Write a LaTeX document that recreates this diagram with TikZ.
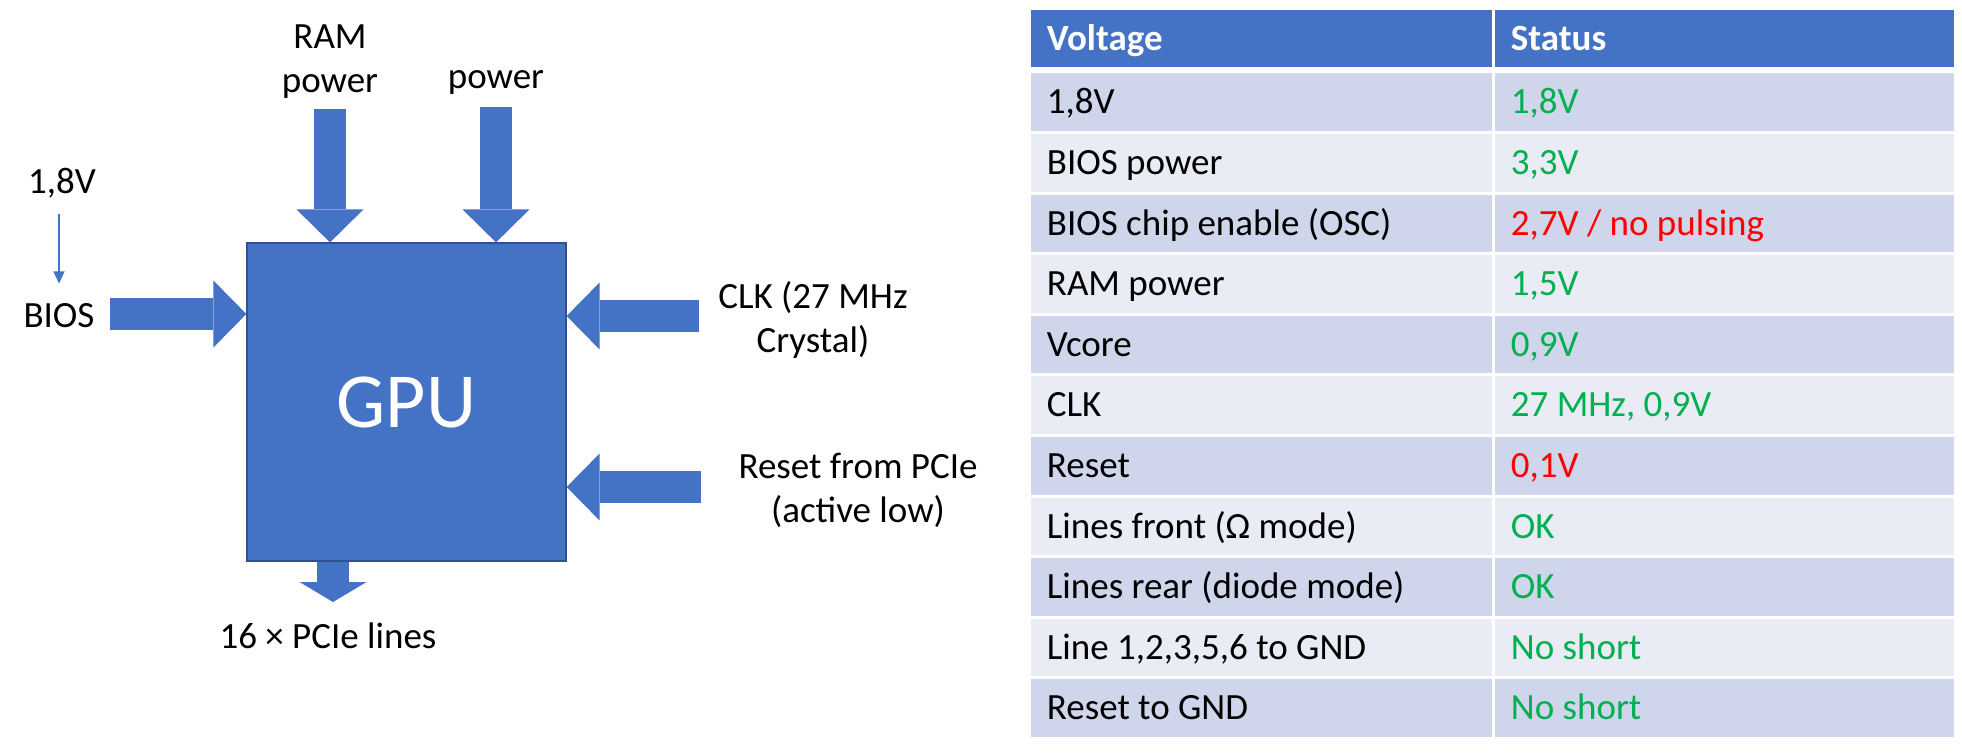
\documentclass[tikz,border=0pt]{standalone}
\usepackage{fontspec}
\setmainfont{Carlito}
\usetikzlibrary{arrows.meta}
\definecolor{gpublue}{HTML}{4472C4}
\definecolor{gpuedge}{HTML}{2F528F}
\definecolor{rowdark}{HTML}{CFD5EA}
\definecolor{rowlight}{HTML}{E9EBF5}
\definecolor{okgreen}{HTML}{00B050}
\definecolor{badred}{HTML}{FF0000}
\begin{document}
\begin{tikzpicture}[
    x=0.5pt, y=-0.5pt,
    every node/.style={inner sep=0pt},
    lbl/.style={font=\fontsize{18.5}{22}\selectfont, align=flush center},
    gpubox/.style={fill=gpublue, draw=gpuedge, line width=0.6pt, minimum width=159.5pt, minimum height=159pt, text=white, font=\fontsize{39}{39}\selectfont},
    bigarrow/.style={draw=gpublue, line width=16pt, -{Triangle[length=16.5pt,width=33.5pt,line width=0pt]}},
    thinarrow/.style={draw=gpublue, line width=0.6pt, -{Triangle[length=6pt,width=5.5pt]}},
    cell/.style={anchor=north west, inner xsep=7.75pt, inner ysep=0pt, minimum height=28.8pt, text height=11.7pt, text depth=0pt, font=\fontsize{18.5}{22}\selectfont, align=flush left},
    vcell/.style={cell, text width=215pt},
    scell/.style={cell, text width=214pt},
    hdr/.style={fill=gpublue, text=white, font=\fontsize{18.5}{22}\selectfont\bfseries, minimum height=28.5pt},
    dark/.style={fill=rowdark},
    light/.style={fill=rowlight}
]
    \useasboundingbox (0,0) rectangle (1962,754);

    % 1. The GPU block and its labels
    \node[gpubox] (gpu) at (406.5,402) {GPU};
    \node[lbl] (ramlbl) at (330,62) {RAM\\power};
    \node[lbl] (pwrlbl) at (496,82) {power};
    \node[lbl] (v18) at (62,183) {1,8V};
    \node[lbl] (bios) at (59,316) {BIOS};
    \node[lbl] (clk) at (813,320) {CLK (27 MHz\\Crystal)};
    \node[lbl] (rst) at (858,490) {Reset from PCIe\\(active low)};
    \node[lbl] (pcie) at (328,636) {16 × PCIe lines};

    % 2. Free ends of the block arrows
    \coordinate (ramtop) at (330,109);
    \coordinate (pwrtop) at (496,107);
    \coordinate (biosend) at (110,314);
    \coordinate (clkend) at (699,316);
    \coordinate (rstend) at (701,487);
    \coordinate (pcietip) at (333,602);

    % 3. Draw the arrows
    \draw[bigarrow] (ramtop) -- (ramtop |- gpu.north);
    \draw[bigarrow] (pwrtop) -- (pwrtop |- gpu.north);
    \draw[bigarrow] (biosend) -- (biosend -| gpu.west);
    \draw[bigarrow] (clkend) -- (clkend -| gpu.east);
    \draw[bigarrow] (rstend) -- (rstend -| gpu.east);
    \draw[bigarrow, -{Triangle[length=10pt,width=33.5pt,line width=0pt]}] (pcietip |- gpu.south) -- (pcietip);

    % 1,8V feeds the BIOS
    \draw[thinarrow, shorten <=8pt, shorten >=10pt] (v18.south -| bios) -- (bios.north);

    % 4. Measurement table
    \node[vcell, hdr] (hv) at (1031,10) {Voltage};
    \node[scell, hdr] (hs) at (1495,10) {Status};

    \node[vcell, dark] (v1) at (1031,73) {1,8V};
    \node[scell, dark, text=okgreen] (s1) at (1495,73) {1,8V};
    \node[vcell, light] (v2) at (1031,133.6) {BIOS power};
    \node[scell, light, text=okgreen] (s2) at (1495,133.6) {3,3V};
    \node[vcell, dark] (v3) at (1031,194.2) {BIOS chip enable (OSC)};
    \node[scell, dark, text=badred] (s3) at (1495,194.2) {2,7V / no pulsing};
    \node[vcell, light] (v4) at (1031,254.8) {RAM power};
    \node[scell, light, text=okgreen] (s4) at (1495,254.8) {1,5V};
    \node[vcell, dark] (v5) at (1031,315.4) {Vcore};
    \node[scell, dark, text=okgreen] (s5) at (1495,315.4) {0,9V};
    \node[vcell, light] (v6) at (1031,376) {CLK};
    \node[scell, light, text=okgreen] (s6) at (1495,376) {27 MHz, 0,9V};
    \node[vcell, dark] (v7) at (1031,436.6) {Reset};
    \node[scell, dark, text=badred] (s7) at (1495,436.6) {0,1V};
    \node[vcell, light] (v8) at (1031,497.2) {Lines front (Ω mode)};
    \node[scell, light, text=okgreen] (s8) at (1495,497.2) {OK};
    \node[vcell, dark] (v9) at (1031,557.8) {Lines rear (diode mode)};
    \node[scell, dark, text=okgreen] (s9) at (1495,557.8) {OK};
    \node[vcell, light] (v10) at (1031,618.4) {Line 1,2,3,5,6 to GND};
    \node[scell, light, text=okgreen] (s10) at (1495,618.4) {No short};
    \node[vcell, dark] (v11) at (1031,679) {Reset to GND};
    \node[scell, dark, text=okgreen] (s11) at (1495,679) {No short};

\end{tikzpicture}
\end{document}
